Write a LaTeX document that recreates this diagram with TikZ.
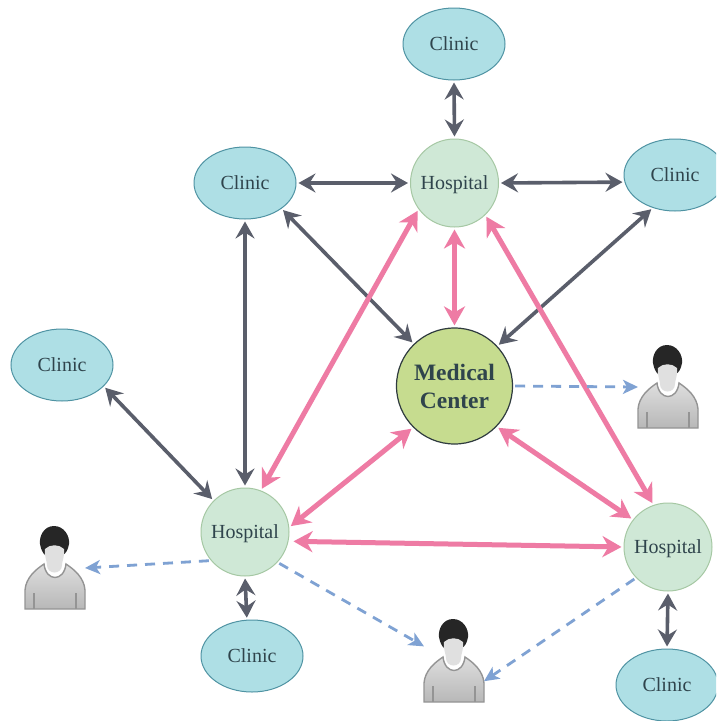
\documentclass[tikz,border=0pt]{standalone}
\usepackage{fontspec}
\setmainfont{Liberation Serif}
\usetikzlibrary{arrows.meta,shapes.geometric}
\definecolor{clinicfill}{HTML}{AEDFE5}
\definecolor{clinicline}{HTML}{4F93A3}
\definecolor{hospfill}{HTML}{CFE8D6}
\definecolor{hospline}{HTML}{A6C8A4}
\definecolor{medfill}{HTML}{C6DC8F}
\definecolor{medline}{HTML}{2F3B3F}
\definecolor{darkarrow}{HTML}{5A5E6B}
\definecolor{pinkarrow}{HTML}{EE7BA4}
\definecolor{bluearrow}{HTML}{7FA2D3}
\definecolor{labeltext}{HTML}{2F444C}
\tikzset{
  clinicnode/.style={ellipse,draw=clinicline,fill=clinicfill,line width=1pt,minimum width=102pt,minimum height=72pt,inner sep=0pt,text=labeltext,text height=13pt,text depth=0pt,font=\fontsize{20}{24}\selectfont},
  hospnode/.style={circle,draw=hospline,fill=hospfill,line width=1pt,minimum size=88pt,inner sep=0pt,text=labeltext,text height=13pt,text depth=0pt,font=\fontsize{20}{24}\selectfont},
  mednode/.style={circle,draw=medline,fill=medfill,line width=1.2pt,minimum size=116pt,inner sep=0pt,text=labeltext,align=center,font=\fontsize{23.5}{28}\selectfont\bfseries},
  personbox/.style={rectangle,minimum width=60pt,minimum height=84pt,inner sep=0pt,outer sep=0pt},
  greyconn/.style={darkarrow,line width=3.6pt,{Stealth[length=17pt,width=19pt,inset=6pt]}-{Stealth[length=17pt,width=19pt,inset=6pt]},shorten <=2pt,shorten >=2pt},
  pinkconn/.style={pinkarrow,line width=5pt,{Stealth[length=19pt,width=21pt,inset=6pt]}-{Stealth[length=19pt,width=21pt,inset=6pt]},shorten <=2pt,shorten >=2pt},
  blueconn/.style={bluearrow,line width=2.8pt,dash pattern=on 10pt off 8pt,-{Stealth[length=15pt,width=14pt,inset=4pt]},shorten <=2pt},
  person/.pic={
    \path[draw=black!42,line width=1.4pt,top color=black!13,bottom color=black!28]
      (-30,41) -- (-30,22) .. controls (-29,10) and (-20,2) .. (-11,-4)
      .. controls (-9,14) and (9,14) .. (11,-4)
      .. controls (20,2) and (29,10) .. (30,22) -- (30,41) -- cycle;
    \draw[black!42,line width=1.4pt] (-21,25) -- (-21,41) (21,25) -- (21,41);
    \fill[black!85] (-1,-42) .. controls (-11,-42) and (-16,-32) .. (-15,-24)
      .. controls (-14,-18) and (-12,-15) .. (-10,-13) -- (8,-13)
      .. controls (11,-15) and (13,-18) .. (14,-24)
      .. controls (15,-32) and (9,-42) .. (-1,-42) -- cycle;
    \fill[black!12] (-10,-19) .. controls (-5,-24) and (4,-24) .. (9,-19)
      .. controls (10,-12) and (7,-7) .. (7,-3)
      .. controls (7,7) and (-8,7) .. (-8,-3)
      .. controls (-8,-7) and (-11,-12) .. (-10,-19) -- cycle;
  }
}
\begin{document}
\begin{tikzpicture}[x=1pt,y=-1pt]
\clip (0,0) rectangle (716,721);
\fill[white] (0,0) rectangle (716,721);
% nodes
\node[clinicnode] (ct) at (454,44) {Clinic};
\node[hospnode] (ht) at (454.5,183) {Hospital};
\node[clinicnode] (cl) at (245,183) {Clinic};
\node[clinicnode] (cr) at (675,175) {Clinic};
\node[clinicnode] (cf) at (62,365) {Clinic};
\node[mednode] (med) at (454.5,386) {Medical\\Center};
\node[hospnode] (hl) at (245,532) {Hospital};
\node[hospnode] (hr) at (668,547) {Hospital};
\node[clinicnode] (cbl) at (252,656) {Clinic};
\node[clinicnode] (cbr) at (667,685) {Clinic};
\node[personbox] (p1) at (668,387) {};
\node[personbox] (p2) at (55,568) {};
\node[personbox] (p3) at (454,661) {};
\pic at (p1.center) {person};
\pic at (p2.center) {person};
\pic at (p3.center) {person};
% grey connectors
\draw[greyconn] (ct.270) -- (ht.90);
\draw[greyconn] (cl.0) -- (ht.180);
\draw[greyconn] (ht.0) -- (cr.188);
\draw[greyconn] (cl.270) -- (hl.90);
\draw[greyconn] (cl.-35) -- (med.134);
\draw[greyconn] (cr.236) -- (med.43);
\draw[greyconn] (cf.-27) -- (hl.135);
\draw[greyconn] (hl.270) -- (cbl.98);
\draw[greyconn] (hr.270) -- (cbr.90);
% pink connectors
\draw[pinkconn] (ht.270) -- (med.90);
\draw[pinkconn] (ht.216) -- (hl.69);
\draw[pinkconn] (ht.-46) -- (hr.109);
\draw[pinkconn] (med.225) -- (hl.6);
\draw[pinkconn] (med.-44) -- (hr.142);
\draw[pinkconn,shorten <=5pt] (hl.-12) -- (hr.180);
% blue dashed connectors
\draw[blueconn] (med.0) -- (p1.west);
\draw[blueconn] (hl.220) -- (p2.east);
\draw[blueconn] (hl.-43) -- (p3.154);
\draw[blueconn] (hr.224) -- (p3.-34);
\end{tikzpicture}
\end{document}
